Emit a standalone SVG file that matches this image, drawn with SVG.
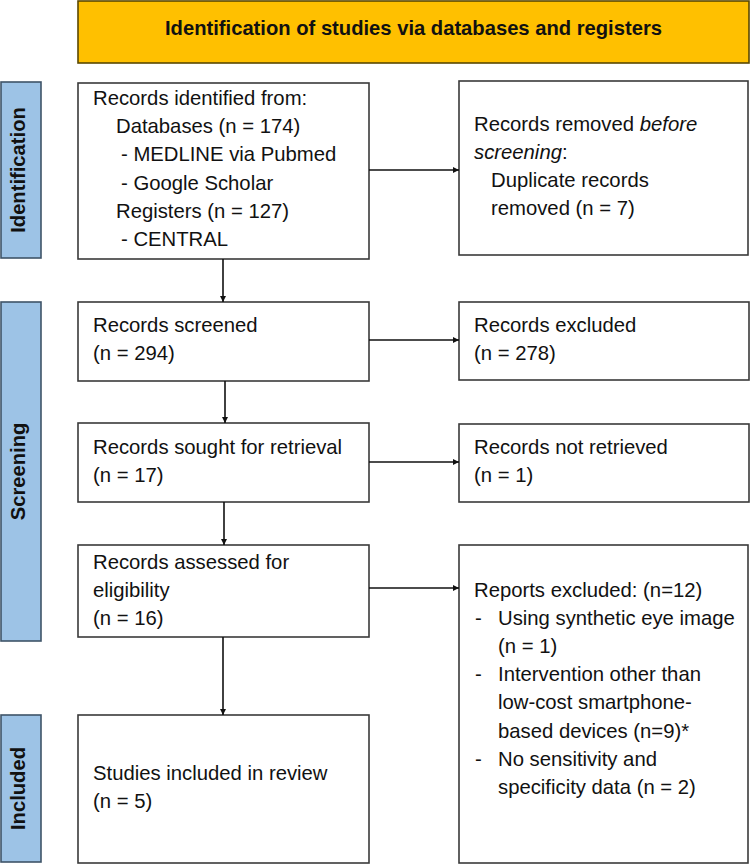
<svg xmlns="http://www.w3.org/2000/svg" width="750" height="865" viewBox="0 0 750 865">
<defs>
<style>
.box{fill:#fff;stroke:#3a3a3a;stroke-width:1.6}
.side{fill:#9DC3E6;stroke:#3f5468;stroke-width:1.6}
.hdr{fill:#FFC000;stroke:#5a4800;stroke-width:1.6}
.t{font-family:"Liberation Sans",Arial,sans-serif;font-size:20.3px;fill:#111}
.b{font-family:"Liberation Sans",Arial,sans-serif;font-size:20.2px;font-weight:bold;fill:#111}
.c{stroke:#111;stroke-width:1.6;fill:none;marker-end:url(#ah)}
</style>
<marker id="ah" viewBox="0 0 10 10" refX="10" refY="5" markerWidth="6" markerHeight="6" markerUnits="userSpaceOnUse" orient="auto">
<path d="M0,0 L10,5 L0,10 z" fill="#111"/>
</marker>
</defs>
<g id="header">
<rect class="hdr" x="78" y="1" width="671" height="62"/>
<text class="b" x="413.5" y="35" text-anchor="middle">Identification of studies via databases and registers</text>
</g>
<g id="side-identification">
<rect class="side" x="1" y="82" width="40" height="176"/>
<text class="b" transform="translate(25,170) rotate(-90)" text-anchor="middle">Identification</text>
</g>
<g id="side-screening">
<rect class="side" x="1" y="302" width="40" height="339"/>
<text class="b" transform="translate(25,471.5) rotate(-90)" text-anchor="middle">Screening</text>
</g>
<g id="side-included">
<rect class="side" x="1" y="715" width="40" height="147"/>
<text class="b" transform="translate(25,788.5) rotate(-90)" text-anchor="middle">Included</text>
</g>
<g id="records-identified">
<rect class="box" x="78" y="83" width="291" height="176"/>
<text class="t" x="93" y="105">Records identified from:</text>
<text class="t" x="116" y="133.2">Databases (n = 174)</text>
<text class="t" x="121" y="161.4">- MEDLINE via Pubmed</text>
<text class="t" x="121" y="189.6">- Google Scholar</text>
<text class="t" x="116" y="217.8">Registers (n = 127)</text>
<text class="t" x="121" y="246">- CENTRAL</text>
</g>
<g id="records-removed">
<rect class="box" x="459" y="81" width="289" height="174"/>
<text class="t" x="474" y="131">Records removed <tspan font-style="italic">before</tspan></text>
<text class="t" x="474" y="159"><tspan font-style="italic">screening</tspan>:</text>
<text class="t" x="491" y="187">Duplicate records</text>
<text class="t" x="491" y="215">removed (n = 7)</text>
</g>
<g id="records-screened">
<rect class="box" x="78" y="302" width="291" height="79"/>
<text class="t" x="93" y="332">Records screened</text>
<text class="t" x="93" y="360">(n = 294)</text>
</g>
<g id="records-excluded">
<rect class="box" x="459" y="302" width="290" height="78"/>
<text class="t" x="474" y="332">Records excluded</text>
<text class="t" x="474" y="360">(n = 278)</text>
</g>
<g id="records-sought">
<rect class="box" x="78" y="423" width="291" height="79"/>
<text class="t" x="93" y="454">Records sought for retrieval</text>
<text class="t" x="93" y="482">(n = 17)</text>
</g>
<g id="records-not-retrieved">
<rect class="box" x="459" y="424" width="290" height="78"/>
<text class="t" x="474" y="454">Records not retrieved</text>
<text class="t" x="474" y="482">(n = 1)</text>
</g>
<g id="records-assessed">
<rect class="box" x="78" y="545" width="291" height="92"/>
<text class="t" x="93" y="569">Records assessed for</text>
<text class="t" x="93" y="597">eligibility</text>
<text class="t" x="93" y="625">(n = 16)</text>
</g>
<g id="reports-excluded">
<rect class="box" x="459" y="545" width="289" height="318"/>
<text class="t" x="474" y="597">Reports excluded: (n=12)</text>
<text class="t" x="475" y="625.1">-</text>
<text class="t" x="498" y="625.1">Using synthetic eye image</text>
<text class="t" x="498" y="653.2">(n = 1)</text>
<text class="t" x="475" y="681.3">-</text>
<text class="t" x="498" y="681.3">Intervention other than</text>
<text class="t" x="498" y="709.4">low-cost smartphone-</text>
<text class="t" x="498" y="737.5">based devices (n=9)*</text>
<text class="t" x="475" y="765.6">-</text>
<text class="t" x="498" y="765.6">No sensitivity and</text>
<text class="t" x="498" y="793.7">specificity data (n = 2)</text>
</g>
<g id="studies-included">
<rect class="box" x="78" y="715" width="291" height="148"/>
<text class="t" x="93" y="780">Studies included in review</text>
<text class="t" x="93" y="808">(n = 5)</text>
</g>
<g id="connectors">
<line class="c" x1="223" y1="259" x2="223" y2="302"/>
<line class="c" x1="225" y1="381" x2="225" y2="423"/>
<line class="c" x1="224" y1="502" x2="224" y2="545"/>
<line class="c" x1="223" y1="637" x2="223" y2="715"/>
<line class="c" x1="369" y1="170" x2="459" y2="170"/>
<line class="c" x1="369" y1="340" x2="459" y2="340"/>
<line class="c" x1="369" y1="462" x2="459" y2="462"/>
<line class="c" x1="369" y1="588" x2="459" y2="588"/>
</g>
</svg>
